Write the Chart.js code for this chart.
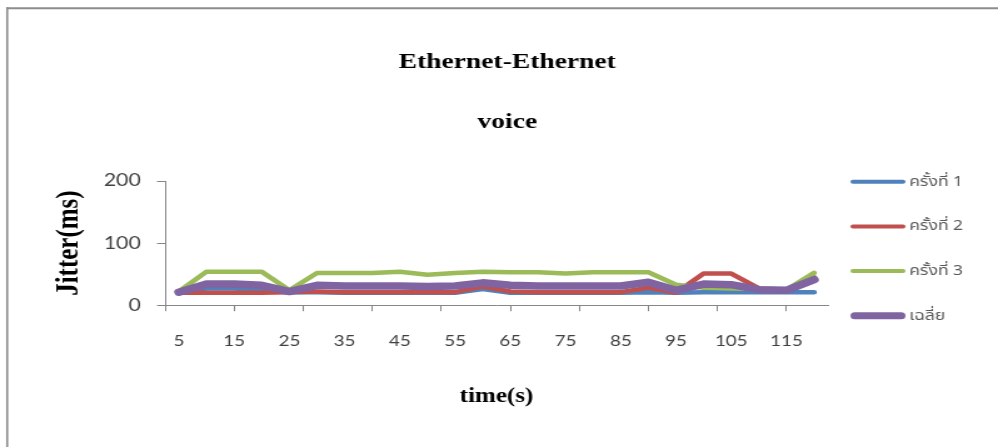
<!DOCTYPE html>
<html>
<head>
<meta charset="utf-8">
<script src="https://cdn.jsdelivr.net/npm/chart.js@4.4.1/dist/chart.umd.min.js"></script>
<style>
  html, body { margin: 0; padding: 0; background: #fff; overflow: hidden; }
</style>
</head>
<body>
<canvas id="c" width="798" height="447" style="display:block;width:998px;height:447px"></canvas>
<script>
// Sampling instants (s)
const timeLabels = ['5','10','15','20','25','30','35','40','45','50','55','60',
                    '65','70','75','80','85','90','95','100','105','110','115','120'];
// Labels printed under the time axis
const tickLabels = ['5','15','25','35','45','55','65','75','85','95','105','115'];

const seriesNames = ['ครั้งที่ 1', 'ครั้งที่ 2', 'ครั้งที่ 3', 'เฉลี่ย'];

// Jitter (ms) per run
const jitterRun1 = [21,27,27,24,21,21,20,20,20,20,20,26,20,20,20,20,20,21,20,21,21,21,21,21];
const jitterRun2 = [20,20,20,20,21,22,21,21,21,21,21,30,22,21,21,21,21,28,20,51,51,27,25,45];
const jitterRun3 = [22,54,54,54,24,52,52,52,54,49,52,54,53,53,51,53,53,53,33,28,27,26,25,52];
const jitterAvg  = [21,34,34,32,22,32,31,31,31,30,31,36,32,31,31,31,31,37,24,34,33,25,24,41];

const AXIS = '#868686';
const SERIF = "'Liberation Serif', 'Times New Roman', serif";
const SANS = "Lato, 'Liberation Sans', sans-serif";

// Outer frame of the chart sheet
const frame = {
  id: 'frame',
  beforeDraw(chart) {
    const { ctx, width, height } = chart;
    ctx.save();
    ctx.fillStyle = '#fff';
    ctx.fillRect(0, 0, width, height);
    ctx.strokeStyle = '#8c8c8c';
    ctx.lineWidth = 2;
    ctx.beginPath(); ctx.moveTo(5, 8.3); ctx.lineTo(width, 8.3); ctx.stroke();
    ctx.lineWidth = 1.6;
    ctx.beginPath(); ctx.moveTo(5.75, 7.3); ctx.lineTo(5.75, height); ctx.stroke();
    ctx.restore();
  }
};

// Legend drawn in the reserved strip right of the plot
const sideLegend = {
  id: 'sideLegend',
  afterDraw(chart, args, opts) {
    const { ctx, chartArea } = chart;
    const x0 = chartArea.right + opts.gap;
    ctx.save();
    ctx.font = opts.font;
    ctx.textAlign = 'left';
    ctx.textBaseline = 'middle';
    chart.data.datasets.forEach((ds, i) => {
      const y = opts.top + i * opts.spacing;
      const w = ds.legendLineWidth;
      ctx.strokeStyle = ds.borderColor;
      ctx.lineWidth = w;
      ctx.lineCap = 'round';
      ctx.beginPath();
      ctx.moveTo(x0 + w / 2, y);
      ctx.lineTo(x0 + opts.lineLength - w / 2, y);
      ctx.stroke();
      ctx.fillStyle = opts.color;
      ctx.fillText(ds.label, x0 + opts.lineLength + 3, y + 1);
    });
    ctx.restore();
  }
};

const mkSeries = (label, data, color, width, legendWidth, order) => ({
  label, data,
  borderColor: color,
  backgroundColor: color,
  borderWidth: width,
  legendLineWidth: legendWidth,
  borderJoinStyle: 'round',
  borderCapStyle: 'round',
  pointRadius: 0,
  pointHoverRadius: 0,
  tension: 0,
  fill: false,
  order
});

new Chart(document.getElementById('c'), {
  type: 'line',
  data: {
    labels: timeLabels,
    datasets: [
      mkSeries(seriesNames[0], jitterRun1, '#4F81BD', 4.5, 4, 4),
      mkSeries(seriesNames[1], jitterRun2, '#C0504D', 4.5, 4, 3),
      mkSeries(seriesNames[2], jitterRun3, '#9BBB59', 4.5, 4, 2),
      mkSeries(seriesNames[3], jitterAvg,  '#8064A2', 7.5, 7, 1)
    ]
  },
  options: {
    responsive: false,
    animation: false,
    devicePixelRatio: 1,
    events: [],
    layout: { padding: { left: 13.2, right: 0, top: 0, bottom: 36.8 } },
    plugins: {
      legend: { display: false },
      tooltip: { enabled: false },
      title: {
        display: true,
        text: 'Ethernet-Ethernet',
        color: '#000',
        font: { family: SERIF, size: 22, weight: 'bold', lineHeight: 1.2 },
        padding: { top: 48.8, bottom: 0 }
      },
      subtitle: {
        display: true,
        text: 'voice',
        color: '#000',
        font: { family: SERIF, size: 22, weight: 'bold', lineHeight: 1.2 },
        padding: { top: 33.6, bottom: 45.8 }
      },
      sideLegend: {
        gap: 18, top: 181.7, spacing: 44.7, lineLength: 44,
        font: "14px 'Noto Sans Thai', 'Noto Sans', Lato, sans-serif",
        color: '#595959'
      }
    },
    scales: {
      x: {
        type: 'category',
        position: 'bottom',
        weight: 1,
        offset: true,
        grid: { display: false },
        border: { display: false },
        ticks: {
          autoSkip: false,
          maxRotation: 0,
          padding: 13,
          color: '#404040',
          font: { family: SANS, size: 15 },
          callback(value, index) {
            const t = timeLabels[index];
            return tickLabels.includes(t) ? t : '';
          }
        },
        title: {
          display: true,
          text: 'time(s)',
          color: '#000',
          font: { family: SERIF, size: 20, weight: 'bold', lineHeight: 1.2 },
          padding: { top: 22, bottom: 1 }
        }
      },
      // tick marks of the time axis
      xMarks: {
        type: 'linear',
        position: 'bottom',
        weight: 0,
        min: 0,
        max: timeLabels.length,
        afterBuildTicks(scale) {
          const marks = [];
          for (let v = 0; v < timeLabels.length; v += 2.5) marks.push({ value: v });
          scale.ticks = marks;
        },
        grid: { drawOnChartArea: false, drawTicks: true, tickLength: 6, color: AXIS, lineWidth: 1 },
        border: { display: true, color: AXIS, width: 1 },
        ticks: { display: false }
      },
      y: {
        type: 'linear',
        position: 'left',
        min: 0,
        max: 200,
        afterFit(scale) { scale.width = 118.8; },
        ticks: {
          stepSize: 100,
          padding: 13,
          color: '#404040',
          font: { family: SANS, size: 17 }
        },
        grid: { drawOnChartArea: false, drawTicks: true, tickLength: 6.5, color: AXIS, lineWidth: 1 },
        border: { display: true, color: AXIS, width: 1 },
        title: {
          display: true,
          text: 'Jitter(ms)',
          color: '#000',
          font: { family: SERIF, size: 25, weight: 'bold', lineHeight: 1.2 },
          padding: { top: 27.4, bottom: 0 }
        }
      },
      // empty strip that holds the legend
      legendStrip: {
        type: 'linear',
        position: 'right',
        display: true,
        afterFit(scale) { scale.width = 136; },
        grid: { display: false },
        border: { display: false },
        ticks: { display: false }
      }
    }
  },
  plugins: [frame, sideLegend]
});
</script>
</body>
</html>
